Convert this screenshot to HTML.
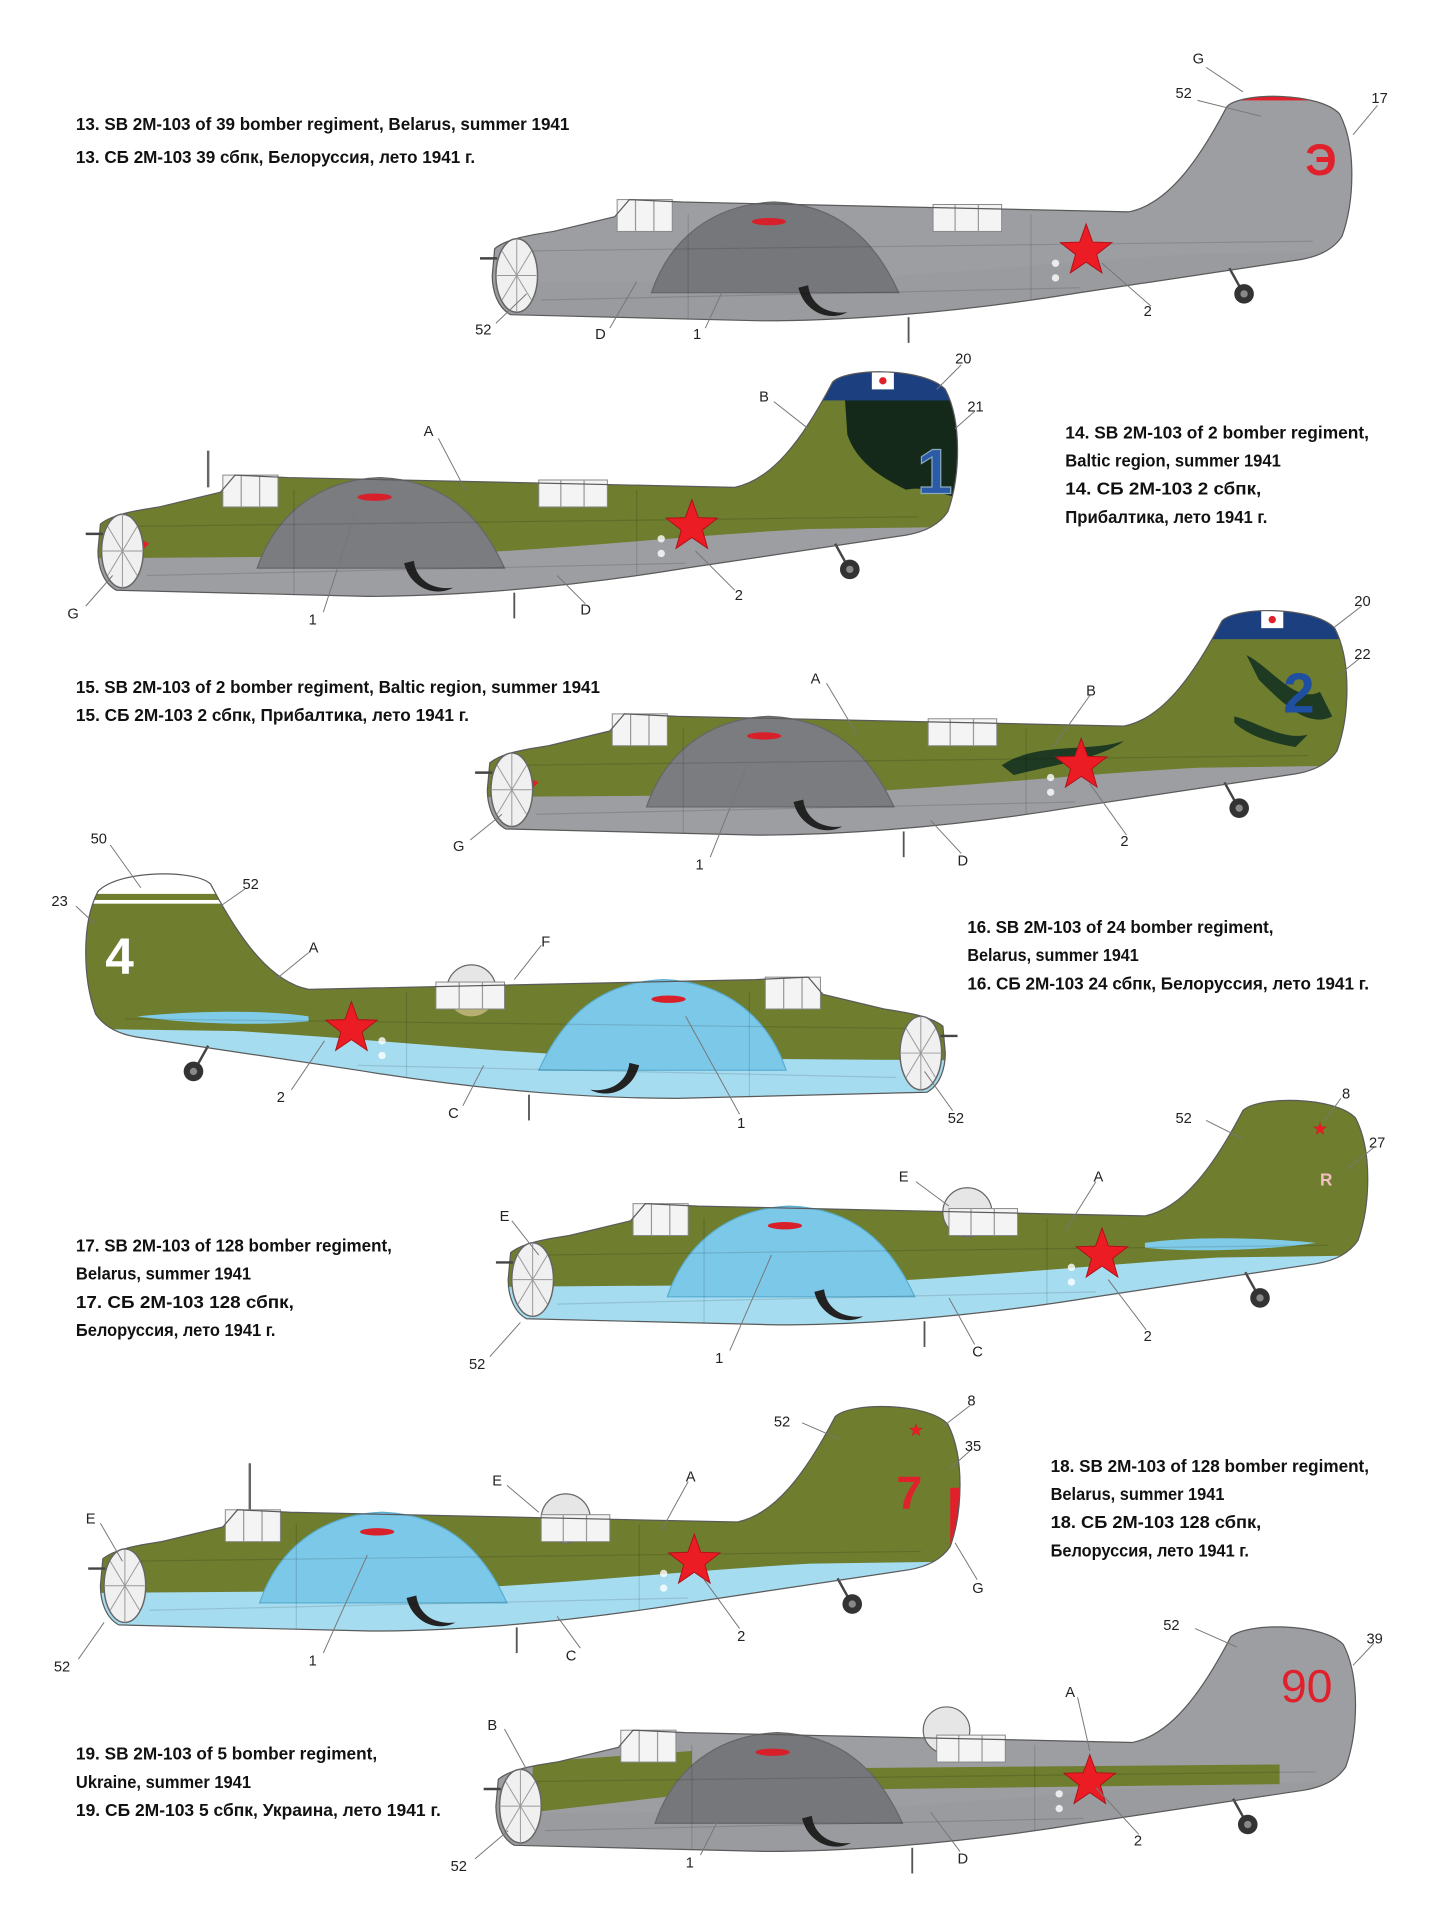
<!DOCTYPE html>
<html><head><meta charset="utf-8">
<style>
html,body{margin:0;padding:0;background:#fff;}
svg{display:block;}
.t{font-family:"Liberation Sans","Noto Sans CJK SC",sans-serif;font-weight:bold;font-size:14px;fill:#111;}
.l{font-family:"Liberation Sans",sans-serif;font-size:12px;fill:#222;}
.ld{stroke:#777;stroke-width:0.8;fill:none;}
</style></head><body>
<svg width="1440" height="1920" viewBox="0 0 1176 1568" preserveAspectRatio="none" xmlns="http://www.w3.org/2000/svg">
<defs>
<path id="hull" d="M -18,-22 C -8,-30 10,-33 30,-36 L 80,-48 L 92,-62 L 135,-60 L 500,-52 C 530,-58 555,-90 580,-138 C 592,-150 655,-150 672,-132 C 686,-105 684,-60 674,-32 C 666,-20 652,-15 640,-13 L 460,14 C 350,32 260,37 200,37 L -5,32 C -16,26 -20,12 -20,0 Z"/>
<clipPath id="hc"><use href="#hull"/></clipPath>
<path id="belly" d="M -40,6 L 230,4 C 350,0 450,-12 560,-18 L 700,-20 L 700,70 L -40,70 Z"/>
<path id="star" d="M0,-22 L5.3,-7.3 L20.9,-6.8 L8.6,2.8 L12.9,17.8 L0,9 L-12.9,17.8 L-8.6,2.8 L-20.9,-6.8 L-5.3,-7.3Z" fill="#ec1c24" stroke="#b01018" stroke-width="0.8"/>
<path id="dome" d="M 110,14 C 125,-30 160,-58 210,-60 C 262,-58 292,-30 312,14 Z"/>
<g id="common">
  <path d="M 230,10 C 235,30 255,38 270,30 C 255,32 240,25 238,8 Z" fill="#222"/>
  <ellipse cx="206" cy="-44" rx="14" ry="3" fill="#d8202a"/>
  <rect x="82" y="-62" width="45" height="26" fill="#f4f4f4" stroke="#888" stroke-width="0.8"/>
  <line x1="97" y1="-62" x2="97" y2="-36" stroke="#999"/><line x1="112" y1="-62" x2="112" y2="-36" stroke="#999"/>
  <rect x="340" y="-58" width="56" height="22" fill="#f4f4f4" stroke="#888" stroke-width="0.8"/>
  <line x1="358" y1="-58" x2="358" y2="-36" stroke="#999"/><line x1="377" y1="-58" x2="377" y2="-36" stroke="#999"/>
  <line x1="0" y1="-20" x2="650" y2="-28" stroke="#000" stroke-opacity=".12"/>
  <line x1="20" y1="20" x2="460" y2="10" stroke="#000" stroke-opacity=".12"/>
  <line x1="140" y1="-50" x2="140" y2="36" stroke="#000" stroke-opacity=".12"/>
  <line x1="420" y1="-50" x2="420" y2="20" stroke="#000" stroke-opacity=".12"/>
  <circle cx="440" cy="-10" r="3" fill="#fff" opacity=".8"/><circle cx="440" cy="2" r="3" fill="#fff" opacity=".8"/>
  <line x1="582" y1="-6" x2="592" y2="12" stroke="#444" stroke-width="2"/>
  <circle cx="594" cy="15" r="8" fill="#333"/><circle cx="594" cy="15" r="3" fill="#888"/>
  <line x1="320" y1="34" x2="320" y2="55" stroke="#555" stroke-width="1.5"/>
  <use href="#star" x="465" y="-20"/>
  <use href="#hull" fill="none" stroke="#5a5a5a" stroke-width="1"/>
  <ellipse cx="0" cy="0" rx="17" ry="30" fill="#f0f0f0" stroke="#666" stroke-width="1.2"/>
  <path d="M -17,0 L 17,0 M 0,-30 L 0,30 M -12,-20 L 12,20 M -12,20 L 12,-20" stroke="#999" stroke-width="0.8"/>
  <line x1="-16" y1="-14" x2="-30" y2="-14" stroke="#444" stroke-width="2"/>
</g>
</defs>

<text class="t" x="62" y="106" textLength="403" lengthAdjust="spacingAndGlyphs">13. SB 2M-103 of 39 bomber regiment, Belarus, summer 1941</text>
<text class="t" x="62" y="133" textLength="326" lengthAdjust="spacingAndGlyphs">13. СБ 2М-103 39 сбпк, Белоруссия, лето 1941 г.</text>

<text class="t" x="870" y="358" textLength="248" lengthAdjust="spacingAndGlyphs">14. SB 2M-103 of 2 bomber regiment,</text>
<text class="t" x="870" y="381" textLength="176" lengthAdjust="spacingAndGlyphs">Baltic region, summer 1941</text>
<text class="t" x="870" y="404" textLength="160" lengthAdjust="spacingAndGlyphs">14. СБ 2М-103 2 сбпк,</text>
<text class="t" x="870" y="427" textLength="165" lengthAdjust="spacingAndGlyphs">Прибалтика, лето 1941 г.</text>

<text class="t" x="62" y="566" textLength="428" lengthAdjust="spacingAndGlyphs">15. SB 2M-103 of 2 bomber regiment, Baltic region, summer 1941</text>
<text class="t" x="62" y="589" textLength="321" lengthAdjust="spacingAndGlyphs">15. СБ 2М-103 2 сбпк, Прибалтика, лето 1941 г.</text>

<text class="t" x="790" y="762" textLength="250" lengthAdjust="spacingAndGlyphs">16. SB 2M-103 of 24 bomber regiment,</text>
<text class="t" x="790" y="785" textLength="140" lengthAdjust="spacingAndGlyphs">Belarus, summer 1941</text>
<text class="t" x="790" y="808" textLength="328" lengthAdjust="spacingAndGlyphs">16. СБ 2М-103 24 сбпк, Белоруссия, лето 1941 г.</text>

<text class="t" x="62" y="1022" textLength="258" lengthAdjust="spacingAndGlyphs">17. SB 2M-103 of 128 bomber regiment,</text>
<text class="t" x="62" y="1045" textLength="143" lengthAdjust="spacingAndGlyphs">Belarus, summer 1941</text>
<text class="t" x="62" y="1068" textLength="178" lengthAdjust="spacingAndGlyphs">17. СБ 2М-103 128 сбпк,</text>
<text class="t" x="62" y="1091" textLength="163" lengthAdjust="spacingAndGlyphs">Белоруссия, лето 1941 г.</text>

<text class="t" x="858" y="1202" textLength="260" lengthAdjust="spacingAndGlyphs">18. SB 2M-103 of 128 bomber regiment,</text>
<text class="t" x="858" y="1225" textLength="142" lengthAdjust="spacingAndGlyphs">Belarus, summer 1941</text>
<text class="t" x="858" y="1248" textLength="172" lengthAdjust="spacingAndGlyphs">18. СБ 2М-103 128 сбпк,</text>
<text class="t" x="858" y="1271" textLength="162" lengthAdjust="spacingAndGlyphs">Белоруссия, лето 1941 г.</text>

<text class="t" x="62" y="1437" textLength="246" lengthAdjust="spacingAndGlyphs">19. SB 2M-103 of 5 bomber regiment,</text>
<text class="t" x="62" y="1460" textLength="143" lengthAdjust="spacingAndGlyphs">Ukraine, summer 1941</text>
<text class="t" x="62" y="1483" textLength="298" lengthAdjust="spacingAndGlyphs">19. СБ 2М-103 5 сбпк, Украина, лето 1941 г.</text>

<g transform="translate(422,225)">
  <use href="#hull" fill="#9c9ea2"/>
  <g clip-path="url(#hc)">
    <use href="#belly" fill="#999b9f"/>
    <rect x="570" y="-155" width="130" height="12" fill="#e0202a"/>
  </g>
  <use href="#dome" fill="#75777b" stroke="#666"/>
  <use href="#common"/>
</g>
<text x="1066" y="143" font-family="Liberation Sans,sans-serif" font-weight="bold" font-size="36" fill="#e0202a">Э</text>

<g transform="translate(100,450)">
  <use href="#hull" fill="#6e7d2e"/>
  <g clip-path="url(#hc)">
    <use href="#belly" fill="#9c9ea2"/>
    <path d="M 588,-155 L 700,-155 L 700,-45 C 680,-38 660,-55 640,-50 C 620,-60 600,-72 592,-95 Z" fill="#15291a"/>
    <rect x="570" y="-155" width="130" height="32" fill="#1c3f7f"/>
    <rect x="612" y="-146" width="18" height="14" fill="#fff"/><circle cx="621" cy="-139" r="3" fill="#e0202a"/>
  </g>
  <use href="#dome" fill="#7a7c80" stroke="#666"/>
  <path d="M 5,-14 L 22,-6 L 8,6 Z" fill="#e0202a"/>
  <line x1="70" y1="-82" x2="70" y2="-52" stroke="#666" stroke-width="2"/>
  <use href="#common"/>
</g>
<text x="749" y="403" font-family="Liberation Sans,sans-serif" font-weight="bold" font-size="52" fill="#2a5aa8" stroke="#8ab" stroke-width="1">1</text>

<g transform="translate(418,645)">
  <use href="#hull" fill="#6e7d2e"/>
  <g clip-path="url(#hc)">
    <use href="#belly" fill="#9c9ea2"/>
    <path d="M 600,-110 C 620,-100 640,-70 660,-80 L 670,-60 C 650,-50 630,-70 610,-90 Z M 590,-60 C 610,-55 630,-40 650,-45 L 640,-35 C 620,-38 600,-45 590,-55 Z" fill="#1f3a22"/>
    <path d="M 400,-20 C 430,-40 470,-30 500,-40 C 480,-25 440,-20 410,-12 Z" fill="#1f3a22"/>
    <rect x="570" y="-155" width="130" height="32" fill="#1c3f7f"/>
    <rect x="612" y="-146" width="18" height="14" fill="#fff"/><circle cx="621" cy="-139" r="3" fill="#e0202a"/>
  </g>
  <use href="#dome" fill="#7a7c80" stroke="#666"/>
  <path d="M 5,-14 L 22,-6 L 8,6 Z" fill="#e0202a"/>
  <use href="#common"/>
</g>
<text x="1048" y="582" font-family="Liberation Sans,sans-serif" font-weight="bold" font-size="46" fill="#1f4fa0">2</text>

<g transform="translate(752,860) scale(-1,1)">
  <use href="#hull" fill="#6e7d2e"/>
  <g clip-path="url(#hc)">
    <use href="#belly" fill="#a6dcf0"/>
    <rect x="570" y="-155" width="130" height="25" fill="#fff"/>
    <rect x="570" y="-125" width="130" height="3" fill="#fff"/>
    <path d="M 500,-30 C 540,-36 600,-34 640,-30 C 600,-24 540,-22 500,-26 Z" fill="#7fcbe8"/>
  </g>
  <use href="#dome" fill="#7cc8e8" stroke="#5aaed0"/>
  <circle cx="367" cy="-52" r="20" fill="#e6e6e6" stroke="#666"/>
  <path d="M 347,-50 A 20 20 0 0 0 387,-50 Z" fill="#b8b070"/>
  <use href="#common"/>
</g>
<text x="86" y="795" font-family="Liberation Sans,sans-serif" font-weight="bold" font-size="42" fill="#fff">4</text>

<g transform="translate(435,1045)">
  <use href="#hull" fill="#6e7d2e"/>
  <g clip-path="url(#hc)">
    <use href="#belly" fill="#a6dcf0"/>
    <path d="M 500,-30 C 540,-36 600,-34 640,-30 C 600,-24 540,-22 500,-26 Z" fill="#7fcbe8"/>
  </g>
  <use href="#dome" fill="#7cc8e8" stroke="#5aaed0"/>
  <circle cx="355" cy="-55" r="20" fill="#e6e6e6" stroke="#666"/>
  <use href="#common"/>
</g>
<use href="#star" transform="translate(1078,922) scale(0.25)"/>
<text x="1078" y="968" font-family="Liberation Sans,sans-serif" font-weight="bold" font-size="14" fill="#f0c0c0">R</text>

<g transform="translate(102,1295)">
  <use href="#hull" fill="#6e7d2e"/>
  <g clip-path="url(#hc)">
    <use href="#belly" fill="#a6dcf0"/>
    <rect x="674" y="-80" width="10" height="50" fill="#e0202a"/>
  </g>
  <use href="#dome" fill="#7cc8e8" stroke="#5aaed0"/>
  <line x1="102" y1="-100" x2="102" y2="-58" stroke="#666" stroke-width="2"/>
  <circle cx="360" cy="-55" r="20" fill="#e6e6e6" stroke="#666"/>
  <use href="#common"/>
</g>
<use href="#star" transform="translate(748,1168) scale(0.25)"/>
<text x="732" y="1232" font-family="Liberation Sans,sans-serif" font-weight="bold" font-size="38" fill="#e0202a">7</text>

<g transform="translate(425,1475)">
  <use href="#hull" fill="#9c9ea2"/>
  <g clip-path="url(#hc)">
    <use href="#belly" fill="#999b9f"/>
    <path d="M 10,-36 L 140,-45 L 140,-10 L 10,5 Z M 140,-30 L 620,-34 L 620,-18 L 140,-12 Z" fill="#6e7d2e"/>
  </g>
  <use href="#dome" fill="#75777b" stroke="#666"/>
  <circle cx="348" cy="-62" r="19" fill="#e6e6e6" stroke="#666"/>
  <use href="#common"/>
</g>
<text x="1046" y="1390" font-family="Liberation Sans,sans-serif" font-size="38" fill="#e0202a">90</text>

<g>
<path class="ld" d="M985,55 L1015,75 M978,82 L1030,95 M1125,86 L1105,110 M405,264 L430,240 M498,268 L520,230 M576,268 L610,195 M940,250 L900,215"/>
<text class="l" x="974" y="52">G</text><text class="l" x="960" y="80">52</text><text class="l" x="1120" y="84">17</text>
<text class="l" x="388" y="273">52</text><text class="l" x="486" y="277">D</text><text class="l" x="566" y="277">1</text><text class="l" x="934" y="258">2</text>

<path class="ld" d="M632,328 L660,350 M785,298 L765,318 M796,336 L780,350 M358,358 L380,400 M70,495 L92,470 M264,500 L290,420 M478,493 L455,470 M600,482 L568,450"/>
<text class="l" x="780" y="297">20</text><text class="l" x="620" y="328">B</text><text class="l" x="790" y="336">21</text><text class="l" x="346" y="356">A</text>
<text class="l" x="55" y="505">G</text><text class="l" x="252" y="510">1</text><text class="l" x="474" y="502">D</text><text class="l" x="600" y="490">2</text>

<path class="ld" d="M1112,495 L1090,512 M1110,538 L1095,550 M675,558 L700,600 M890,568 L860,610 M384,686 L410,665 M580,700 L610,625 M785,697 L760,670 M920,682 L890,640"/>
<text class="l" x="1106" y="495">20</text><text class="l" x="1106" y="538">22</text><text class="l" x="662" y="558">A</text><text class="l" x="887" y="568">B</text>
<text class="l" x="370" y="695">G</text><text class="l" x="568" y="710">1</text><text class="l" x="782" y="707">D</text><text class="l" x="915" y="691">2</text>

<path class="ld" d="M90,690 L115,725 M62,740 L78,755 M200,726 L180,740 M252,778 L225,800 M442,772 L420,800 M238,890 L265,850 M378,903 L395,870 M604,910 L560,830 M778,907 L755,875"/>
<text class="l" x="74" y="689">50</text><text class="l" x="42" y="740">23</text><text class="l" x="198" y="726">52</text><text class="l" x="252" y="778">A</text><text class="l" x="442" y="773">F</text>
<text class="l" x="226" y="900">2</text><text class="l" x="366" y="913">C</text><text class="l" x="602" y="921">1</text><text class="l" x="774" y="917">52</text>

<path class="ld" d="M985,915 L1015,930 M1095,897 L1082,915 M1122,937 L1100,955 M748,965 L775,985 M895,965 L870,1005 M418,997 L440,1025 M400,1108 L425,1080 M596,1103 L630,1025 M796,1098 L775,1060 M936,1086 L905,1045"/>
<text class="l" x="960" y="917">52</text><text class="l" x="1096" y="897">8</text><text class="l" x="1118" y="937">27</text><text class="l" x="734" y="965">E</text><text class="l" x="893" y="965">A</text>
<text class="l" x="408" y="997">E</text><text class="l" x="383" y="1118">52</text><text class="l" x="584" y="1113">1</text><text class="l" x="794" y="1108">C</text><text class="l" x="934" y="1095">2</text>

<path class="ld" d="M655,1162 L685,1175 M792,1148 L770,1165 M792,1185 L775,1200 M414,1213 L440,1235 M562,1210 L540,1250 M82,1244 L100,1275 M798,1290 L780,1260 M64,1355 L85,1325 M264,1350 L300,1270 M474,1346 L455,1320 M604,1330 L575,1290"/>
<text class="l" x="632" y="1165">52</text><text class="l" x="790" y="1148">8</text><text class="l" x="788" y="1185">35</text><text class="l" x="402" y="1213">E</text><text class="l" x="560" y="1210">A</text>
<text class="l" x="70" y="1244">E</text><text class="l" x="794" y="1301">G</text><text class="l" x="44" y="1365">52</text><text class="l" x="252" y="1360">1</text><text class="l" x="462" y="1356">C</text><text class="l" x="602" y="1340">2</text>

<path class="ld" d="M976,1330 L1010,1345 M1122,1342 L1105,1360 M880,1386 L890,1430 M412,1412 L430,1445 M388,1518 L415,1495 M572,1515 L610,1440 M784,1512 L760,1480 M930,1498 L895,1460"/>
<text class="l" x="950" y="1331">52</text><text class="l" x="1116" y="1342">39</text><text class="l" x="870" y="1386">A</text><text class="l" x="398" y="1413">B</text>
<text class="l" x="368" y="1528">52</text><text class="l" x="560" y="1525">1</text><text class="l" x="782" y="1522">D</text><text class="l" x="926" y="1507">2</text>
</g>
</svg>
</body></html>
